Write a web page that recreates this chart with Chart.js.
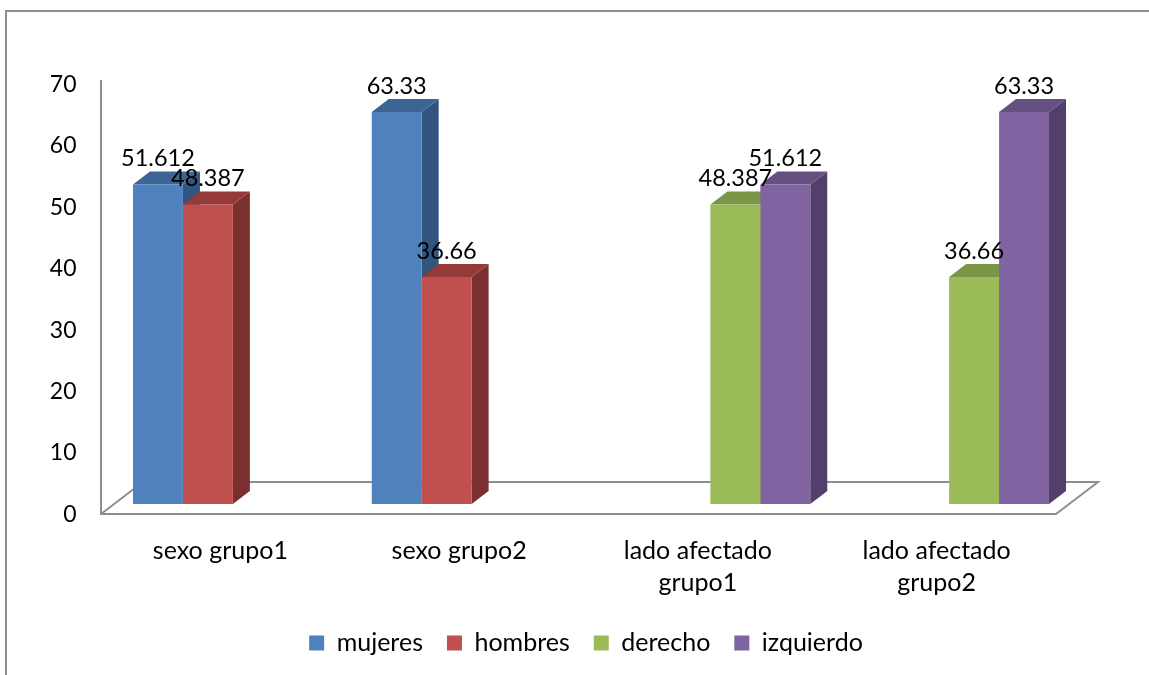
<!DOCTYPE html>
<html>
<head>
<meta charset="utf-8">
<script src="https://cdn.jsdelivr.net/npm/chart.js"></script>
<style>
    html, body { margin: 0; padding: 0; background: #fff; overflow: hidden; }
    canvas { display: block; }
</style>
</head>
<body>
<canvas id="chart" width="1149" height="675"></canvas>
<script>
    const categories = ['sexo grupo1', 'sexo grupo2', ['lado afectado', 'grupo1'], ['lado afectado', 'grupo2']];
    const mujeres = [51.612, 63.33, null, null];
    const hombres = [48.387, 36.66, null, null];
    const derecho = [null, null, 48.387, 36.66];
    const izquierdo = [null, null, 51.612, 63.33];
    const yTicks = [0, 10, 20, 30, 40, 50, 60, 70];

    const FONT = 'Lato, Carlito, sans-serif';
    const AXIS_GREY = '#8e8e8e';
    const DEPTH_X = 17, DEPTH_Y = 13;       // bar depth
    const FLOOR_X = 42, FLOOR_Y = 32;       // floor depth

    // top / side shades of each series
    const shades = [
        { top: '#3d6594', side: '#32557f' },
        { top: '#953a38', side: '#7a302e' },
        { top: '#7c9647', side: '#67803a' },
        { top: '#665081', side: '#533f6c' }
    ];

    function poly(ctx, pts, fill) {
        ctx.beginPath();
        pts.forEach((p, i) => i ? ctx.lineTo(p[0], p[1]) : ctx.moveTo(p[0], p[1]));
        ctx.closePath();
        ctx.fillStyle = fill;
        ctx.fill();
    }

    // ▼ outer frame, left wall and floor, then the 3D faces of the bars
    const depthPlugin = {
        id: 'depth',
        // legend is not centred on the plot in the original
        afterLayout(chart) {
            chart.legend.left += 33.5;
            chart.legend.right += 33.5;
        },
        beforeDatasetsDraw(chart) {
            const ctx = chart.ctx;
            const yAxis = chart.scales.y;
            const x0 = 101, x1 = 1056;
            const y0 = yAxis.getPixelForValue(0) + 2;
            const yTop = yAxis.getPixelForValue(70) - 2;

            ctx.save();
            ctx.strokeStyle = AXIS_GREY;
            ctx.lineWidth = 2;
            ctx.beginPath();
            ctx.moveTo(1149, 11); ctx.lineTo(6, 11); ctx.lineTo(6, 675);
            ctx.moveTo(x0, yTop); ctx.lineTo(x0, y0); ctx.lineTo(x1, y0);
            ctx.lineTo(x1 + FLOOR_X, y0 - FLOOR_Y); ctx.lineTo(x0 + FLOOR_X, y0 - FLOOR_Y);
            ctx.lineTo(x0, y0);
            ctx.stroke();

            chart.data.datasets.forEach((ds, di) => {
                const meta = chart.getDatasetMeta(di);
                ds.data.forEach((v, i) => {
                    if (v === null) return;
                    const bar = meta.data[i];
                    const l = bar.x - bar.width / 2, r = bar.x + bar.width / 2;
                    poly(ctx, [[r, bar.y], [r + DEPTH_X, bar.y - DEPTH_Y], [r + DEPTH_X, bar.base - DEPTH_Y], [r, bar.base]], shades[di].side);
                    poly(ctx, [[l, bar.y], [l + DEPTH_X, bar.y - DEPTH_Y], [r + DEPTH_X, bar.y - DEPTH_Y], [r, bar.y]], shades[di].top);
                });
            });
            ctx.restore();
        },
        // ▼ value labels sit above the bars
        afterDatasetsDraw(chart) {
            const ctx = chart.ctx;
            ctx.save();
            ctx.font = '23.5px ' + FONT;
            ctx.fillStyle = '#000';
            ctx.textAlign = 'center';
            ctx.textBaseline = 'middle';
            chart.data.datasets.forEach((ds, di) => {
                const meta = chart.getDatasetMeta(di);
                ds.data.forEach((v, i) => {
                    if (v === null) return;
                    ctx.fillText(String(v), meta.data[i].x, meta.data[i].y - 26);
                });
            });
            ctx.restore();
        }
    };

    function series(label, data, color) {
        return { label, data, backgroundColor: color, yAxisID: 'yBars', categoryPercentage: 200 / 239, barPercentage: 1 };
    }

    new Chart(document.getElementById('chart').getContext('2d'), {
        type: 'bar',
        data: {
            labels: categories,
            datasets: [
                series('mujeres', mujeres, '#4f81bd'),
                series('hombres', hombres, '#c0504d'),
                series('derecho', derecho, '#9bbb59'),
                series('izquierdo', izquierdo, '#8064a2')
            ]
        },
        plugins: [depthPlugin],
        options: {
            responsive: false,
            animation: false,
            layout: { padding: { left: 36.5, right: 80.5, top: 82, bottom: 9.5 } },
            plugins: {
                tooltip: { enabled: false },
                legend: {
                    position: 'bottom',
                    labels: {
                        color: '#000',
                        font: { family: FONT, size: 25 },
                        boxWidth: 15,
                        boxHeight: 15,
                        padding: 24
                    }
                }
            },
            scales: {
                x: {
                    grid: { display: false },
                    border: { display: false },
                    afterFit(scale) { scale.height = 94.5; },
                    ticks: {
                        color: '#000',
                        font: { family: FONT, size: 25, lineHeight: 1.28 },
                        maxRotation: 0,
                        autoSkip: false,
                        labelOffset: -12.5,
                        padding: 15
                    }
                },
                // visible value axis, front plane of the 3D box
                y: {
                    position: 'left',
                    min: 0,
                    max: 70,
                    afterBuildTicks(scale) { scale.ticks = yTicks.map(value => ({ value })); },
                    afterFit(scale) { scale.width = 77; },
                    grid: { display: false, drawTicks: false },
                    border: { display: false },
                    ticks: {
                        color: '#000',
                        font: { family: FONT, size: 23 },
                        padding: 37,
                        labelOffset: 2.5
                    }
                },
                // hidden axis of the bars, they stand further back on the floor
                yBars: { display: false, min: -1.289, max: 68.17 }
            }
        }
    });
</script>
</body>
</html>
